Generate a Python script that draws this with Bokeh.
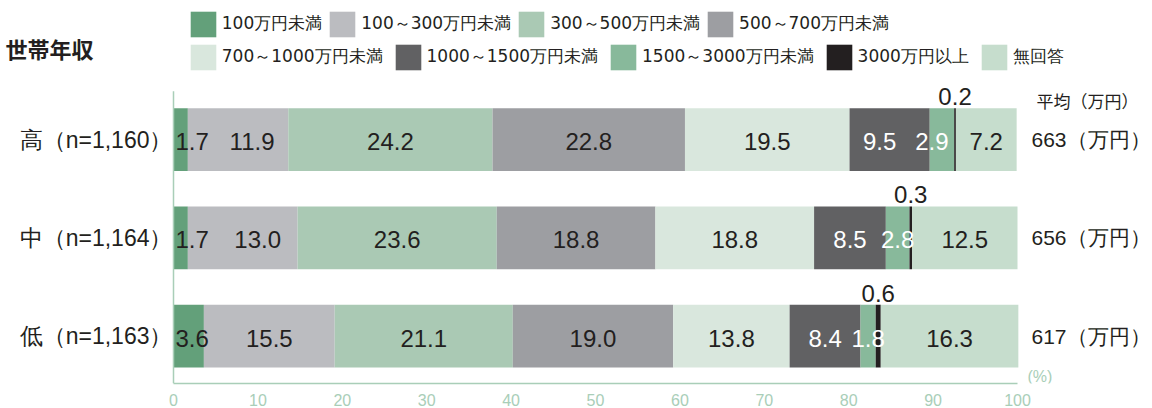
from bokeh.plotting import figure
from bokeh.core.properties import value
from bokeh.models import (ColumnDataSource, Label, LabelSet, Legend, LegendItem,
                          FixedTicker, Range1d)
from bokeh.embed import file_html
from bokeh.resources import INLINE

# ---- data -------------------------------------------------------------
categories = ["100万円未満", "100～300万円未満", "300～500万円未満", "500～700万円未満",
              "700～1000万円未満", "1000～1500万円未満", "1500～3000万円未満",
              "3000万円以上", "無回答"]
groups = ["高（n=1,160）", "中（n=1,164）", "低（n=1,163）"]
averages = [663, 656, 617]          # 平均（万円）
share_high = [1.7, 11.9, 24.2, 22.8, 19.5, 9.5, 2.9, 0.2, 7.2]
share_mid = [1.7, 13.0, 23.6, 18.8, 18.8, 8.5, 2.8, 0.3, 12.5]
share_low = [3.6, 15.5, 21.1, 19.0, 13.8, 8.4, 1.8, 0.6, 16.3]
x_ticks = [0, 10, 20, 30, 40, 50, 60, 70, 80, 90, 100]

# ---- styling ----------------------------------------------------------
colors = ["#63a07a", "#bbbcc0", "#aac9b4", "#9d9ea2", "#d9e7dd",
          "#616163", "#88b99b", "#231f20", "#c6ddcd"]
label_colors = ["#231f20"] * 5 + ["#ffffff", "#ffffff"] + ["#231f20", "#231f20"]
INK = "#231f20"
AXIS_GREEN = "#a9ceb8"
FONT_NUM = "Liberation Sans"
FONT_LEGEND = "DejaVu Sans"
FONT_JP = "Noto Sans CJK JP"
BAR_H = 0.64
# small horizontal nudges (px) so neighbouring labels don't collide
nudge = {(0, 1): 14, (0, 5): -10, (0, 6): -10, (1, 1): 15}

rows = [share_high, share_mid, share_low]
row_y = [2, 1, 0]

# canvas geometry (px)
W, H = 1152, 408
ZERO_PX = 173          # where 0 % sits
AXIS_PX = 384          # x-axis line
PX_PER_PCT = 8.44
ROW_PX = 98.5
Y0 = -47.5 / ROW_PX                 # frame bottom (x-axis line)
Y_TOP = 2 + 139.5 / ROW_PX          # frame top (canvas top)
Y_RULE_TOP = 2 + 48.5 / ROW_PX      # upper end of the left rule

p = figure(width=W, height=H, output_backend="svg", toolbar_location=None,
           x_range=Range1d(-ZERO_PX / PX_PER_PCT, (W - ZERO_PX) / PX_PER_PCT),
           y_range=Range1d(Y0, Y_TOP), y_axis_type=None,
           min_border_left=0, min_border_right=0,
           min_border_top=0, min_border_bottom=H - AXIS_PX)
p.outline_line_color = None
p.xgrid.visible = False
p.background_fill_color = "white"
p.border_fill_color = "white"

# ---- stacked bars -------------------------------------------------------
lefts = []
for vals in rows:
    acc, l = 0.0, []
    for v in vals:
        l.append(acc)
        acc += v
    lefts.append(l)

renderers = []
for i, cat in enumerate(categories):
    src = ColumnDataSource(dict(
        y=row_y,
        left=[lefts[r][i] for r in range(3)],
        right=[lefts[r][i] + rows[r][i] for r in range(3)],
    ))
    renderers.append(p.hbar(y="y", left="left", right="right", height=BAR_H,
                            source=src, fill_color=colors[i], line_color=None))

# ---- value labels -------------------------------------------------------
first = dict(x=[], y=[], text=[], color=[])
mids = dict(x=[], y=[], text=[], color=[], dx=[])
tops = dict(x=[], y=[], text=[])
for r, vals in enumerate(rows):
    for i, v in enumerate(vals):
        txt = f"{v:.1f}"
        c = lefts[r][i] + v / 2
        if i == 0:
            first["x"].append(lefts[r][i]); first["y"].append(row_y[r])
            first["text"].append(txt); first["color"].append(label_colors[i])
        elif i == 7:
            tops["x"].append(c); tops["y"].append(row_y[r] + BAR_H / 2)
            tops["text"].append(txt)
        else:
            mids["x"].append(c); mids["y"].append(row_y[r])
            mids["text"].append(txt); mids["color"].append(label_colors[i])
            mids["dx"].append(nudge.get((r, i), 0))

num24 = dict(text_font=value(FONT_NUM), text_font_size=value("24px"))
p.add_layout(LabelSet(x="x", y="y", text="text", source=ColumnDataSource(first),
                      text_color="color", text_align="left", text_baseline="middle",
                      x_offset=2, y_offset=-2, **num24))
p.add_layout(LabelSet(x="x", y="y", text="text", source=ColumnDataSource(mids),
                      text_color="color", text_align="center", text_baseline="middle",
                      x_offset="dx", y_offset=-2, **num24))
p.add_layout(LabelSet(x="x", y="y", text="text", source=ColumnDataSource(tops),
                      text_color=value(INK), text_align="center",
                      text_baseline="alphabetic", y_offset=3, **num24))

# ---- group labels (left) and averages (right) ---------------------------
grp_src = ColumnDataSource(dict(x=[0] * 3, y=row_y, text=groups))
p.add_layout(LabelSet(x="x", y="y", text="text", source=grp_src, x_offset=-1,
                      text_align="right", text_baseline="middle",
                      text_color=value(INK), text_font=value(FONT_NUM),
                      text_font_size=value("23px")))

avg_src = ColumnDataSource(dict(x=[100] * 3, y=row_y,
                                text=[f"{a}（万円）" for a in averages]))
p.add_layout(LabelSet(x="x", y="y", text="text", source=avg_src, x_offset=14,
                      text_align="left", text_baseline="middle",
                      text_color=value(INK), text_font=value(FONT_NUM),
                      text_font_size=value("21px")))
p.add_layout(Label(x=100, y=2, x_offset=19, y_offset=39.5, text="平均（万円）",
                   text_align="left", text_baseline="middle", text_color=INK,
                   text_font=FONT_JP, text_font_size="17px"))

# ---- axes ---------------------------------------------------------------
xa = p.xaxis[0]
xa.ticker = FixedTicker(ticks=x_ticks)
xa.bounds = (0, 100)
xa.axis_line_color = AXIS_GREEN
xa.axis_line_width = 1.5
xa.major_tick_line_color = None
xa.minor_tick_line_color = None
xa.major_label_text_color = AXIS_GREEN
xa.major_label_text_font = FONT_NUM
xa.major_label_text_font_size = "16px"
xa.major_label_standoff = 4

# left rule at 0 %
p.segment(x0=[0], y0=[Y0], x1=[0], y1=[Y_RULE_TOP],
          line_color=AXIS_GREEN, line_width=1.5)

p.add_layout(Label(x=100, y=Y0, x_offset=10, y_offset=7, text="(%)",
                   text_align="left", text_baseline="middle", text_color=AXIS_GREEN,
                   text_font=FONT_NUM, text_font_size="16px"))

# ---- heading ------------------------------------------------------------
p.add_layout(Label(x=5, y=AXIS_PX - 48, x_units="screen", y_units="screen",
                   text="世帯年収", text_align="left", text_baseline="middle",
                   text_color=INK, text_font=FONT_JP, text_font_size="22px",
                   text_font_style="bold"))

# ---- legend (two rows) ----------------------------------------------------
items = [LegendItem(label=categories[i], renderers=[renderers[i]]) for i in range(9)]
leg_style = dict(orientation="horizontal", glyph_width=32, glyph_height=32,
                 label_standoff=3, padding=0, margin=0, border_line_color=None,
                 background_fill_alpha=0, label_text_font=FONT_LEGEND,
                 label_text_font_size="17px", label_text_color=INK)
leg1 = Legend(items=items[:4], location=(186.8, AXIS_PX - 8.8 - 32), spacing=4, **leg_style)
leg2 = Legend(items=items[4:], location=(186.8, AXIS_PX - 41.8 - 32), spacing=9, **leg_style)
p.add_layout(leg1)
p.add_layout(leg2)

open("out.html", "w").write(file_html(p, INLINE))
